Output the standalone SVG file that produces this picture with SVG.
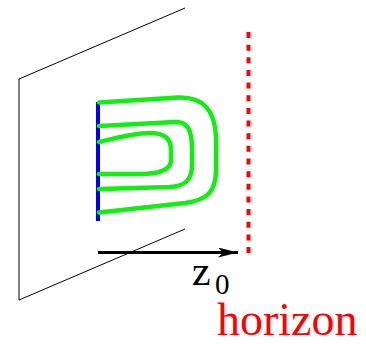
<svg xmlns="http://www.w3.org/2000/svg" width="366" height="344" viewBox="0 0 366 344">
<style>
.plane{fill:none;stroke:#000;stroke-width:1}
.green{fill:none;stroke:#11ee11;stroke-width:4.5;stroke-linecap:round;stroke-linejoin:round}
.txt{font-family:"Liberation Serif",serif}
</style>
<defs>
<marker id="ah" markerWidth="20" markerHeight="10" refX="20" refY="5" orient="auto" markerUnits="userSpaceOnUse">
<path d="M0,0 L20,5 L0,10 L5,5 Z" fill="#000"/>
</marker>
</defs>
<g id="plane">
<path class="plane" d="M185,8 L19,79 L19,300 L185,229"/>
</g>
<g id="boundary">
<line x1="98" y1="102" x2="98" y2="221" stroke="#0000ee" stroke-width="4"/>
</g>
<g id="field-lines">
<path class="green" d="M99,102.5 L178,97.5 C203,96.5 215,110 216,137 L216,170 C216,193 206,200 185,203 L99,212.5"/>
<path class="green" d="M99,126 L175,122 C188,121.5 192,130 192,150 L192,165 C192,180 185,186 170,187 L99,189"/>
<path class="green" d="M99,142 C115,138 135,133 150,133 C166,133 171,140 171,150 L171,160 C171,170 160,174 140,174 L99,174"/>
</g>
<g id="horizon">
<line x1="248.5" y1="32" x2="248.5" y2="253" stroke="#ff0000" stroke-width="4" stroke-dasharray="6,6.65"/>
</g>
<g id="connectors">
<line x1="98" y1="252.5" x2="238" y2="252.5" stroke="#000" stroke-width="3" marker-end="url(#ah)"/>
</g>
<g id="labels">
<text class="txt" x="192" y="285" font-size="42" fill="#000">z</text>
<text class="txt" x="215" y="294" font-size="29" fill="#000">0</text>
<text class="txt" x="217" y="335" font-size="46" fill="#ff0000">horizon</text>
</g>
</svg>
